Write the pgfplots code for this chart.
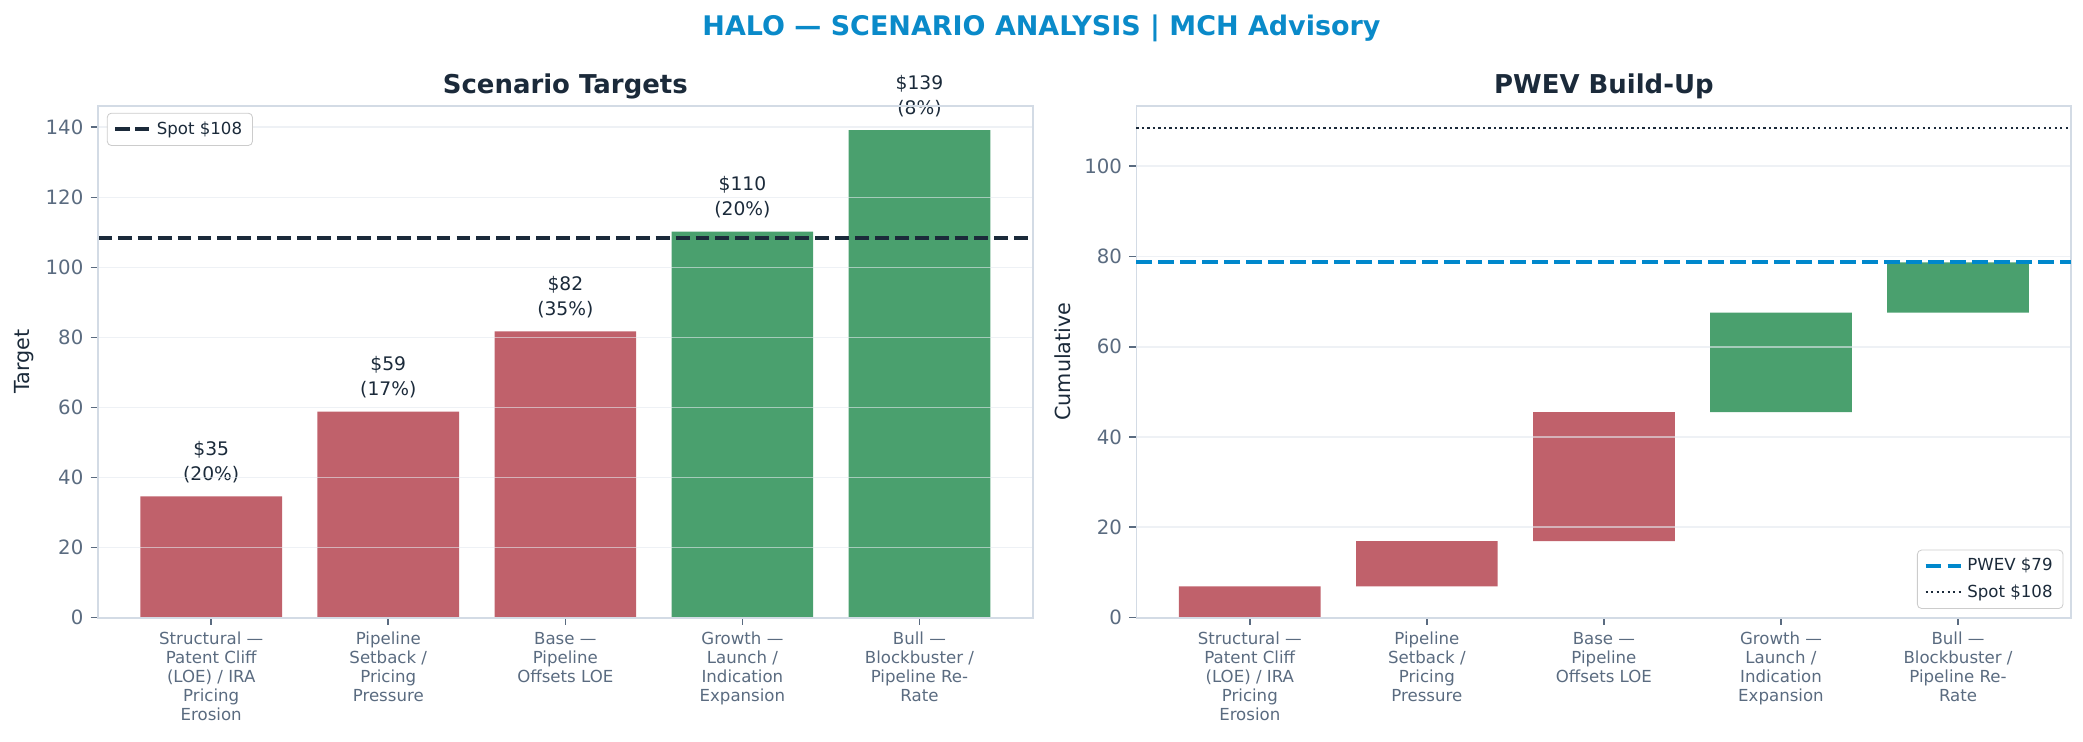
\documentclass[border=0pt]{standalone}
\usepackage{fontspec}
\setmainfont{DejaVu Sans}
\usepackage{pgfplots}
\pgfplotsset{compat=1.18}

\definecolor{barred}{HTML}{C0616B}
\definecolor{bargreen}{HTML}{4AA06E}
\definecolor{titleblue}{HTML}{0A8AC9}
\definecolor{pwevblue}{HTML}{0088CC}
\definecolor{navy}{HTML}{1B2A3A}
\definecolor{tickgray}{HTML}{5A6B80}
\definecolor{framegray}{HTML}{D3DBE5}
\definecolor{gridgray}{HTML}{E3E8EE}
\definecolor{legendgray}{HTML}{CCCCCC}

\tikzset{
  lbl/.style={anchor=south, yshift=3pt, align=center, text=navy,
    font=\fontsize{9}{12}\selectfont},
  paneltitle/.style={font=\fontsize{12.5}{15}\selectfont\bfseries, text=navy},
}

\pgfplotsset{
  panel/.style={
    scale only axis, width=448.8bp, height=245.8bp, anchor=south west,
    xmin=-0.64, xmax=4.64, ymin=0,
    xtick={0,...,4},
    xticklabels={
      {Structural —\\Patent Cliff\\(LOE) / IRA\\Pricing\\Erosion},
      {Pipeline\\Setback /\\Pricing\\Pressure},
      {Base —\\Pipeline\\Offsets LOE},
      {Growth —\\Launch /\\Indication\\Expansion},
      {Bull —\\Blockbuster /\\Pipeline Re-\\Rate}},
    axis line style={framegray, line width=0.9pt},
    tick align=outside, major tick length=3.5pt,
    tick style={tickgray, line width=0.8pt},
    xtick pos=bottom, ytick pos=left,
    ymajorgrids, grid style={gridgray, opacity=0.6, line width=0.8pt},
    axis on top, clip=false,
    /pgf/number format/assume math mode=true,
    tick label style={text=tickgray},
    yticklabel style={font=\fontsize{9.5}{11}\selectfont},
    xticklabel style={font=\fontsize{8}{9.1}\selectfont, align=center},
    ylabel style={font=\fontsize{10}{12}\selectfont, text=navy,
      at={(axis description cs:-0.079,0.5)}, anchor=center},
    legend style={draw=legendgray, rounded corners=2pt, fill=white,
      font=\fontsize{8}{9.5}\selectfont, text=navy,
      inner xsep=3pt, inner ysep=2pt, row sep=1pt},
    legend cell align=left,
  },
}

\begin{document}
\begin{tikzpicture}
\useasboundingbox (0,0) rectangle (1000bp,356bp);
\node[font=\fontsize{13}{16}\selectfont\bfseries, text=titleblue]
  at (500bp,342.5bp) {HALO — SCENARIO ANALYSIS | MCH Advisory};
\node[paneltitle] at (271.4bp,314.5bp) {Scenario Targets};
\node[paneltitle] at (770bp,314.5bp) {PWEV Build-Up};

% left: scenario targets
\begin{axis}[panel, at={(47bp,59.5bp)}, ymax=146.2, ytick={0,20,...,140},
  ylabel={Target},
  legend style={at={(0.0096,0.986)}, anchor=north west}]
\addplot[ybar, bar width=0.8, bar shift=0pt, fill=barred, draw=none, forget plot]
  coordinates {(0,34.6) (1,58.8) (2,81.7)};
\addplot[ybar, bar width=0.8, bar shift=0pt, fill=bargreen, draw=none, forget plot]
  coordinates {(3,110.2) (4,139.2)};
\addplot[sharp plot, navy, line width=1.8pt, dash pattern=on 6.7pt off 2.9pt]
  coordinates {(-0.64,108.4) (4.64,108.4)};
\addlegendentry{Spot \$108}
\node[lbl] at (axis cs:0,34.6) {\$35\\(20\%)};
\node[lbl] at (axis cs:1,58.8) {\$59\\(17\%)};
\node[lbl] at (axis cs:2,81.7) {\$82\\(35\%)};
\node[lbl] at (axis cs:3,110.2) {\$110\\(20\%)};
\node[lbl] at (axis cs:4,139.2) {\$139\\(8\%)};
\end{axis}

% right: PWEV build-up (bars)
\begin{axis}[panel, at={(545.6bp,59.5bp)}, ymax=113.4, ytick={0,20,...,100},
  ylabel={Cumulative}, ybar stacked, bar width=0.8]
\addplot[fill=none, draw=none, forget plot]
  coordinates {(0,0) (1,6.92) (2,16.92) (3,45.52) (4,67.56)};
\addplot[fill=barred, draw=none, forget plot]
  coordinates {(0,6.92) (1,10.0) (2,28.6) (3,0) (4,0)};
\addplot[fill=bargreen, draw=none, forget plot]
  coordinates {(0,0) (1,0) (2,0) (3,22.04) (4,11.14)};
\end{axis}

% right: reference lines and legend
\begin{axis}[panel, at={(545.6bp,59.5bp)}, ymax=113.4, hide axis,
  legend style={at={(0.9915,0.017)}, anchor=south east}]
\addplot[sharp plot, pwevblue, line width=2pt, dash pattern=on 7.4pt off 3.2pt]
  coordinates {(-0.64,78.7) (4.64,78.7)};
\addlegendentry{PWEV \$79}
\addplot[sharp plot, navy, line width=1pt, dash pattern=on 1pt off 1.65pt]
  coordinates {(-0.64,108.4) (4.64,108.4)};
\addlegendentry{Spot \$108}
\end{axis}
\end{tikzpicture}
\end{document}
